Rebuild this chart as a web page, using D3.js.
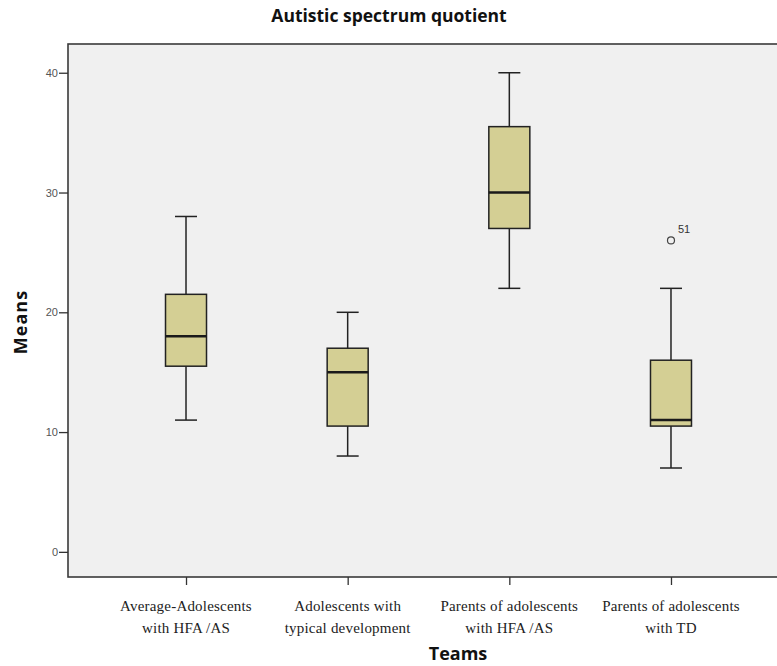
<!DOCTYPE html>
<html>
<head>
<meta charset="utf-8">
<script src="https://cdnjs.cloudflare.com/ajax/libs/d3/7.8.5/d3.min.js"></script>
<style>
  body { margin: 0; background: #fff; }
  svg { display: block; }
</style>
</head>
<body>
<svg width="777" height="666"></svg>
<script>
var svg = d3.select("svg"),
    width = +svg.attr("width"),
    height = +svg.attr("height");

// groups (two-line labels)
var teams = [
  ["Average-Adolescents", "with HFA /AS"],
  ["Adolescents with", "typical development"],
  ["Parents of adolescents", "with HFA /AS"],
  ["Parents of adolescents", "with TD"]
];
// box statistics
var lowWhisker = [11, 8, 22, 7];
var q1 = [15.5, 10.5, 27, 10.5];
var median = [18, 15, 30, 11];
var q3 = [21.5, 17, 35.5, 16];
var highWhisker = [28, 20, 40, 22];
// outliers: [group index, value, case label]
var outliers = [[3, 26, "51"]];
var yTicks = [0, 10, 20, 30, 40];

var plotLeft = 68, plotRight = 789, plotTop = 44, plotBottom = 577;

var x = d3.scalePoint()
    .domain(d3.range(teams.length))
    .range([plotLeft, plotRight])
    .padding(0.73);

var y = d3.scaleLinear()
    .domain([-2.1, 42.4])
    .range([plotBottom, plotTop]);

var boxW = 41, capW = 22;

// plot background
svg.append("rect")
    .attr("x", plotLeft).attr("y", plotTop)
    .attr("width", plotRight - plotLeft).attr("height", plotBottom - plotTop)
    .attr("fill", "#f0f0f0")
    .attr("stroke", "#3a3a3a")
    .attr("stroke-width", 1.6);

// title
svg.append("text")
    .attr("x", 389).attr("y", 22)
    .attr("text-anchor", "middle")
    .attr("font-family", "'Open Sans', Lato, sans-serif")
    .attr("font-weight", "bold")
    .attr("font-size", 17.5)
    .attr("fill", "#111")
    .text("Autistic spectrum quotient");

// y axis
var yAxis = svg.append("g")
    .attr("transform", "translate(" + plotLeft + ",0)")
    .call(d3.axisLeft(y).tickValues(yTicks).tickSize(9).tickPadding(1));
yAxis.select(".domain").remove();
yAxis.selectAll(".tick line").attr("stroke", "#333").attr("stroke-width", 1.3);
yAxis.selectAll(".tick text")
    .attr("font-family", "'Liberation Sans', Arial, sans-serif")
    .attr("font-size", 11)
    .attr("fill", "#555");

// x axis
var xAxis = svg.append("g")
    .attr("transform", "translate(0," + plotBottom + ")")
    .call(d3.axisBottom(x).tickSize(8).tickFormat(""));
xAxis.select(".domain").remove();
xAxis.selectAll(".tick line").attr("stroke", "#333").attr("stroke-width", 1.3);

var xl = svg.append("g").selectAll("text")
    .data(teams)
    .enter().append("text")
    .attr("x", function(d, i) { return x(i); })
    .attr("y", 611)
    .attr("text-anchor", "middle")
    .attr("font-family", "'Liberation Serif', 'Times New Roman', serif")
    .attr("font-size", 15)
    .attr("letter-spacing", 0.2)
    .attr("fill", "#222");
xl.append("tspan")
    .attr("x", function(d, i) { return x(i); })
    .text(function(d) { return d[0]; });
xl.append("tspan")
    .attr("x", function(d, i) { return x(i); })
    .attr("dy", 22)
    .text(function(d) { return d[1]; });

// axis titles
svg.append("text")
    .attr("transform", "translate(27,322) rotate(-90)")
    .attr("text-anchor", "middle")
    .attr("font-family", "'Open Sans', Lato, sans-serif")
    .attr("font-weight", "bold")
    .attr("font-size", 18)
    .attr("letter-spacing", 1)
    .attr("fill", "#111")
    .text("Means");

svg.append("text")
    .attr("x", 458).attr("y", 660)
    .attr("text-anchor", "middle")
    .attr("font-family", "'Open Sans', Lato, sans-serif")
    .attr("font-weight", "bold")
    .attr("font-size", 18)
    .attr("fill", "#111")
    .text("Teams");

// boxes
var g = svg.append("g").selectAll("g")
    .data(teams)
    .enter().append("g");

g.append("line")
    .attr("x1", function(d, i) { return x(i); })
    .attr("x2", function(d, i) { return x(i); })
    .attr("y1", function(d, i) { return y(highWhisker[i]); })
    .attr("y2", function(d, i) { return y(lowWhisker[i]); })
    .attr("stroke", "#222").attr("stroke-width", 1.5);

g.append("line")
    .attr("x1", function(d, i) { return x(i) - capW / 2; })
    .attr("x2", function(d, i) { return x(i) + capW / 2; })
    .attr("y1", function(d, i) { return y(highWhisker[i]); })
    .attr("y2", function(d, i) { return y(highWhisker[i]); })
    .attr("stroke", "#222").attr("stroke-width", 1.5);

g.append("line")
    .attr("x1", function(d, i) { return x(i) - capW / 2; })
    .attr("x2", function(d, i) { return x(i) + capW / 2; })
    .attr("y1", function(d, i) { return y(lowWhisker[i]); })
    .attr("y2", function(d, i) { return y(lowWhisker[i]); })
    .attr("stroke", "#222").attr("stroke-width", 1.5);

g.append("rect")
    .attr("x", function(d, i) { return x(i) - boxW / 2; })
    .attr("y", function(d, i) { return y(q3[i]); })
    .attr("width", boxW)
    .attr("height", function(d, i) { return y(q1[i]) - y(q3[i]); })
    .attr("fill", "#d4cf94")
    .attr("stroke", "#222").attr("stroke-width", 1.5);

g.append("line")
    .attr("x1", function(d, i) { return x(i) - boxW / 2; })
    .attr("x2", function(d, i) { return x(i) + boxW / 2; })
    .attr("y1", function(d, i) { return y(median[i]); })
    .attr("y2", function(d, i) { return y(median[i]); })
    .attr("stroke", "#1a1a1a").attr("stroke-width", 2.5);

// outliers
svg.append("g").selectAll("circle")
    .data(outliers)
    .enter().append("circle")
    .attr("cx", function(d) { return x(d[0]); })
    .attr("cy", function(d) { return y(d[1]); })
    .attr("r", 3.5)
    .attr("fill", "none")
    .attr("stroke", "#444").attr("stroke-width", 1.2);

svg.append("g").selectAll("text")
    .data(outliers)
    .enter().append("text")
    .attr("x", function(d) { return x(d[0]) + 7; })
    .attr("y", function(d) { return y(d[1]) - 7; })
    .attr("font-family", "'Liberation Sans', Arial, sans-serif")
    .attr("font-size", 11)
    .attr("fill", "#333")
    .text(function(d) { return d[2]; });
</script>
</body>
</html>
